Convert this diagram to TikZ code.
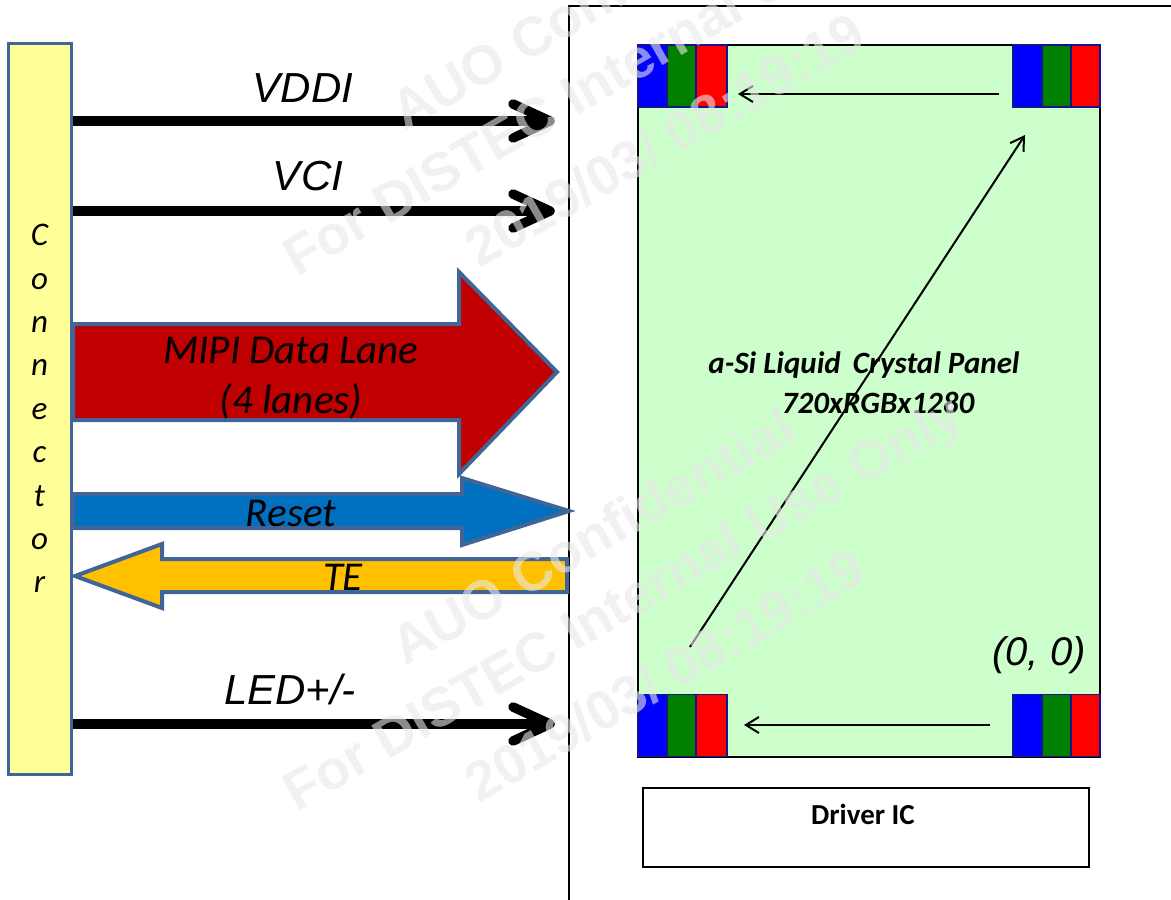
\documentclass[tikz,border=0pt]{standalone}
\usepackage{fontspec}
\setmainfont{Carlito}
\newfontfamily\arialfont{Liberation Sans}
\usetikzlibrary{arrows.meta,calc}
\definecolor{edgeblue}{RGB}{65,101,150}
\definecolor{connyellow}{RGB}{255,255,153}
\definecolor{panelgreen}{RGB}{204,255,204}
\definecolor{mipired}{RGB}{192,0,0}
\definecolor{resetblue}{RGB}{0,112,192}
\definecolor{teamber}{RGB}{255,192,0}
\definecolor{pixnavy}{RGB}{20,20,140}
\definecolor{pixgreen}{RGB}{0,128,0}
\definecolor{markgray}{RGB}{232,232,232}
\newcommand{\pxfont}[1]{\fontsize{#1}{#1}\selectfont}
\newcommand{\rgbgroup}[4]{%
  \node[subpix, fill=blue, minimum width=29, anchor=west] (#1b) at (#2,#3) {};
  \node[subpix, fill=pixgreen, minimum width=29, anchor=west] (#1g) at (#1b.east) {};
  \node[subpix, fill=red, minimum width=#4, anchor=west] (#1r) at (#1g.east) {};
}
\newcommand{\watermark}[1]{%
  \node[wmark, anchor=west] (auo#1) at (395,115+#1) {AUO Confidential};
  \node[wmark, anchor=west] (for#1) at (290,265+#1) {For DISTEC Internal Use Only};
  \node[wmark, anchor=west] (date#1) at (470,252+#1) {2019/03/ 08:19:19};
}

\begin{document}
\begin{tikzpicture}[x=1pt, y=-1pt,
  conn/.style={draw=edgeblue, line width=3pt, fill=connyellow, inner sep=0pt, align=center,
               minimum width=63, minimum height=731,
               font=\pxfont{33}\itshape},
  rail/.style={line width=9.5pt, draw=black},
  railhead/.style={line width=9.5pt, draw=black, line cap=round, line join=round},
  blockarr/.style={draw=edgeblue, line width=4pt, miter limit=10},
  sig/.style={inner sep=0pt, font=\arialfont\pxfont{42}\itshape},
  inarr/.style={inner sep=0pt, align=center, font=\pxfont{41}\itshape},
  subpix/.style={draw=pixnavy, line width=1.5pt, inner sep=0pt, outer sep=0pt, minimum height=62},
  scanarr/.style={line width=2pt, -{Straight Barb[length=13pt, width=16pt, line width=2pt]}},
  wmark/.style={inner sep=0pt, text=markgray, text opacity=0.6, rotate=30,
               font=\arialfont\pxfont{55}\bfseries}]
\useasboundingbox (0,0) rectangle (1171,900);
% connector side
\node[conn] (conn) at (39.5,408.5) {C\\[10.4pt]o\\[10.4pt]n\\[10.4pt]n\\[10.4pt]e\\[10.4pt]c\\[10.4pt]t\\[10.4pt]o\\[10.4pt]r};
% module outline and panel
\draw[line width=2.5pt] (569,900) -- (569,6) -- (1171,6);
\node[draw=black, line width=2pt, fill=panelgreen, inner sep=0pt, minimum width=462, minimum height=712] (panel) at (869,401) {};
\node[draw=black, line width=2pt, fill=white, inner sep=0pt, minimum width=446, minimum height=79] (drv) at (866,827.5) {};
\node[inner sep=0pt, font=\pxfont{29}\bfseries] (drvtext) at (863,814) {Driver IC};
% rgb corners
\rgbgroup{tl}{638}{76}{31}
\rgbgroup{tr}{1013}{76}{29}
\rgbgroup{bl}{638}{725.5}{31}
\rgbgroup{br}{1013}{725.5}{29}
% supply rails
\coordinate (vddiend) at (550,121);
\coordinate (vciend) at (550,211);
\coordinate (ledend) at (550,724);
\foreach \railend in {vddiend,vciend,ledend}{
  \draw[rail] (conn.east |- \railend) -- (\railend);
  \draw[railhead] ($(\railend)+(-37,-17)$) -- (\railend) -- ($(\railend)+(-37,17)$);
}
\node[sig] (vddi) at (303,88) {VDDI};
\node[sig] (vci) at (308,176) {VCI};
\node[sig] (led) at (290,689) {LED+/-};
% block arrows
\draw[blockarr, fill=mipired] (73,324) -- (459,324) -- (459,272) -- (557,372) -- (459,474) -- (459,420) -- (73,420) -- cycle;
\node[inarr] (mipi) at (291,378) {MIPI Data Lane\\[9pt](4 lanes)};
\draw[blockarr, fill=resetblue] (73,494) -- (462,494) -- (462,478) -- (569,511) -- (462,545) -- (462,528) -- (73,528) -- cycle;
\node[inarr] (reset) at (291,513) {Reset};
\draw[blockarr, fill=teamber] (567,559) -- (162,559) -- (162,544) -- (75,576) -- (162,608) -- (162,592) -- (567,592) -- cycle;
\node[inarr] (te) at (343,577) {TE};
% scan arrows
\coordinate (topfrom) at (999,94);
\coordinate (topto) at (738,94);
\coordinate (botfrom) at (990,725);
\coordinate (botto) at (744,725);
\coordinate (diagfrom) at (690,647);
\coordinate (diagto) at (1025,135);
\draw[scanarr] (topfrom) -- (topto);
\draw[scanarr] (botfrom) -- (botto);
\draw[scanarr] (diagfrom) -- (diagto);
\node[inner sep=0pt, font=\pxfont{31}\bfseries\itshape] (lcd) at (864,365) {a-Si Liquid\, Crystal Panel};
\node[inner sep=0pt, font=\pxfont{31}\bfseries\itshape] (res) at (878,403) {720xRGBx1280};
\node[inner sep=0pt, font=\arialfont\pxfont{40}\itshape] (origin) at (1039,655) {(0, 0)};
% watermark
\clip (0,0) rectangle (1171,900);
\watermark{0}
\watermark{535}
\end{tikzpicture}
\end{document}
